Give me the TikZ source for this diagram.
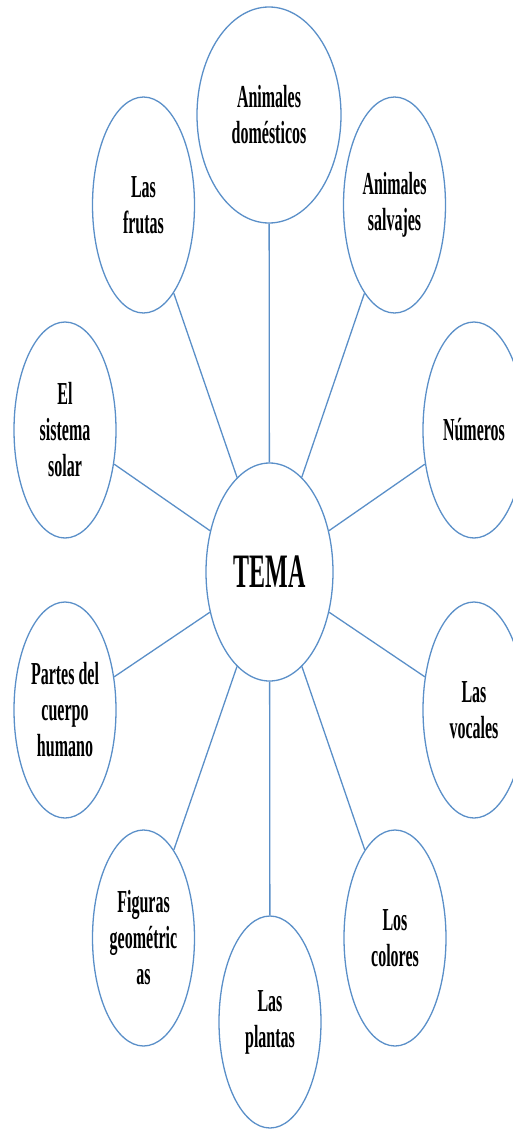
\documentclass[tikz,border=0pt]{standalone}
\usepackage{fontspec}
\usetikzlibrary{shapes.geometric}
\newfontfamily\globofont[FakeStretch=0.5]{Liberation Serif Bold}
\definecolor{azul}{HTML}{5A8FC8}

\begin{document}
\begin{tikzpicture}[x=1pt, y=-1pt,
  globo/.style={ellipse, draw=azul, line width=1.3pt, inner sep=0pt,
    minimum width=102pt, minimum height=216pt, align=center,
    font=\globofont\fontsize{32}{36}\selectfont},
  rama/.style={draw=azul, line width=1.3pt}]
  \useasboundingbox (0, 0) rectangle (513, 1130);
  \clip (0, 0) rectangle (513, 1130);

  % Centro
  \node[globo, minimum width=127pt, minimum height=218pt,
    font=\globofont\fontsize{48}{52}\selectfont] (tema) at (269.5, 572) {TEMA};

  % Globos de arriba
  \node[globo, minimum width=144pt] (domesticos) at (269, 115) {Animales\\dom\'esticos};
  \node[globo] (frutas) at (143.5, 205) {Las\\frutas};
  \node[globo] (salvajes) at (394.5, 205) {Animales\\salvajes};
  \node[globo] (solar) at (65, 430) {El\\sistema\\solar};
  \node[globo] (numeros) at (474, 430) {N\'umeros};

  % Globos de abajo
  \node[globo] (cuerpo) at (65, 710) {Partes del\\cuerpo\\humano};
  \node[globo] (vocales) at (474, 710) {Las\\vocales};
  \node[globo] (figuras) at (143.5, 938) {Figuras\\geom\'etric\\as};
  \node[globo] (colores) at (395, 938) {Los\\colores};
  \node[globo, minimum height=212pt] (plantas) at (270, 1022) {Las\\plantas};

  % Ramas
  \foreach \g in {domesticos, frutas, salvajes, solar, numeros,
                  cuerpo, vocales, figuras, colores, plantas}
    \draw[rama] (tema) -- (\g);
\end{tikzpicture}
\end{document}
